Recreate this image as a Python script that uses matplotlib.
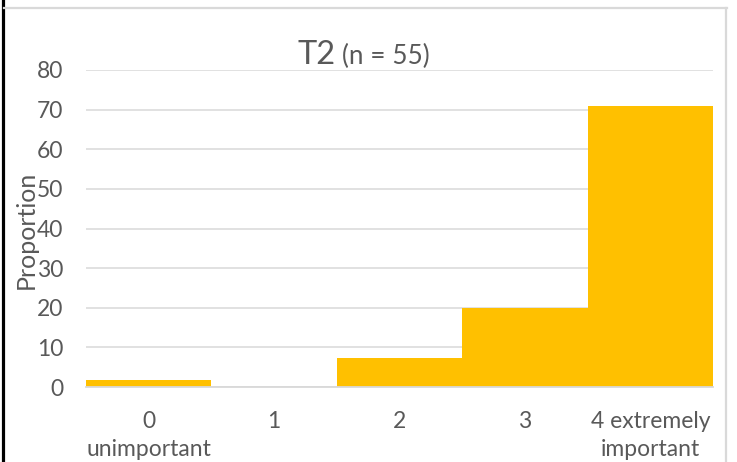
import matplotlib
matplotlib.use("Agg")
import matplotlib.pyplot as plt
from matplotlib.lines import Line2D

categories = ["0\nunimportant", "1", "2", "3", "4 extremely\nimportant"]
values = [1.8, 0.0, 7.3, 20.0, 70.9]
yticks = [0, 10, 20, 30, 40, 50, 60, 70, 80]

plt.rcParams['font.family'] = ['Lato', 'DejaVu Sans']
TXT = "#595959"
GRID = "#D9D9D9"
BAR = "#FFC000"

W, H = 737, 462
fig = plt.figure(figsize=(W / 100, H / 100), dpi=100)
ax = fig.add_axes([86 / W, 1 - 387 / H, (713 - 86) / W, (387 - 70) / H])

x = list(range(len(categories)))
ax.bar(x, values, width=1.0, color=BAR, zorder=3)
ax.set_xlim(-0.5, len(categories) - 0.5)
ax.set_ylim(0, 80)
ax.set_yticks(yticks)
ax.set_xticks(x)
ax.set_xticklabels(categories, linespacing=1.42)
ax.grid(axis='y', color=GRID, linewidth=1.1, zorder=0)
ax.set_axisbelow(True)
for s in ['top', 'right', 'left']:
    ax.spines[s].set_visible(False)
ax.spines['bottom'].set_color(GRID)
ax.spines['bottom'].set_linewidth(1.3)
ax.spines['bottom'].set_zorder(4)
ax.tick_params(axis='both', length=0, labelsize=16.5, colors=TXT)
ax.tick_params(axis='x', pad=17)
ax.tick_params(axis='y', pad=16.5)
ax.set_ylabel("Proportion", fontsize=18, color=TXT)
ax.yaxis.set_label_coords((38 - 86) / 627, 0.497)

fig.text(297 / W, 1 - 64 / H, "T2", fontsize=23.5, color=TXT, va='baseline', ha='left')
fig.text(342 / W, 1 - 64 / H, "(n = 55)", fontsize=18.8, color=TXT, va='baseline', ha='left')

# outer frame decorations
fig.add_artist(Line2D([2.5 / W, 2.5 / W], [0, 1], transform=fig.transFigure, color='black', linewidth=2.3))
fig.add_artist(Line2D([4 / W, 727 / W], [1 - 8 / H, 1 - 8 / H], transform=fig.transFigure, color=GRID, linewidth=1.6))
fig.add_artist(Line2D([726 / W, 726 / W], [0, 1 - 8 / H], transform=fig.transFigure, color=GRID, linewidth=1.6))

fig.savefig("out.png", dpi=100, facecolor='white')
